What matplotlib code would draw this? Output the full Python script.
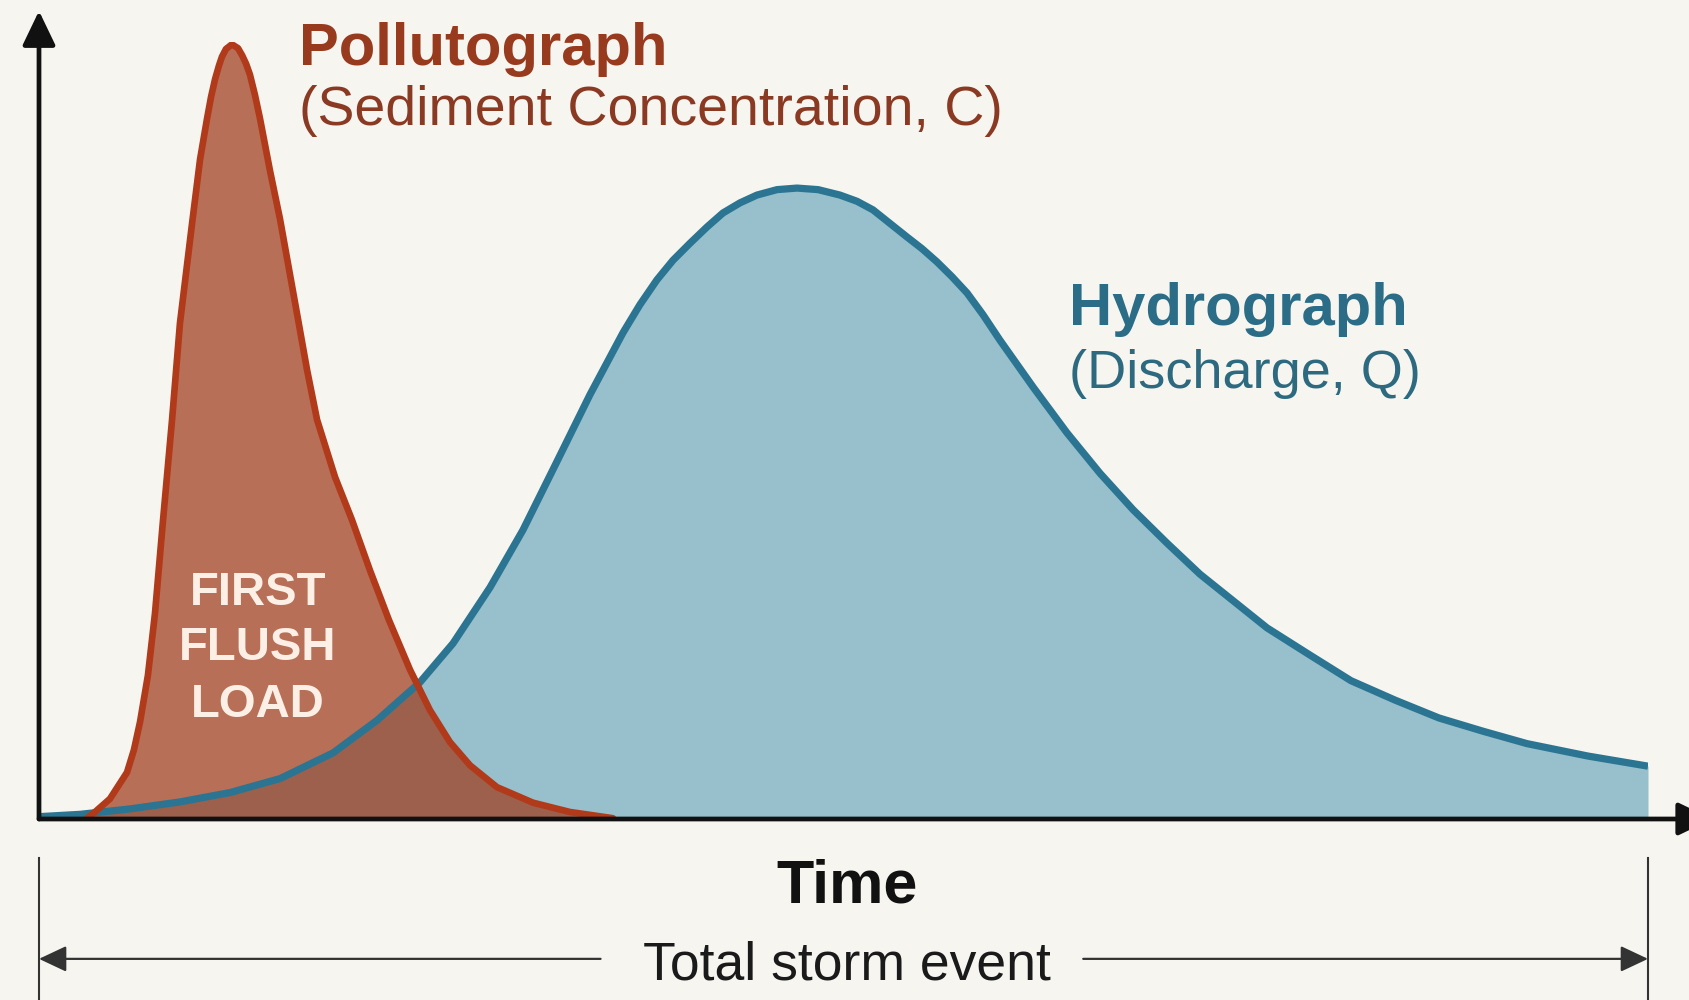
'''
Pollutograph vs hydrograph for a storm event (first flush)
'''
import matplotlib
matplotlib.use('Agg')
import matplotlib.pyplot as plt

# Hydrograph (discharge Q), time in % of the storm event, arbitrary units
hydro_t = [0.0, 2.55, 5.66, 8.76, 11.87, 14.98, 18.27, 21.01, 23.68, 25.73,
           28.03, 30.08, 32.19, 34.24, 36.30, 37.35, 38.41, 39.40, 40.46, 41.52,
           42.51, 43.57, 44.62, 45.87, 47.11, 48.42, 49.78, 50.84, 51.83, 53.95,
           54.88, 55.81, 56.74, 57.68, 58.67, 59.73, 61.78, 63.89, 65.94, 68.00,
           70.11, 72.16, 74.21, 76.32, 78.99, 81.54, 84.28, 87.01, 89.74, 92.48,
           96.27, 100.0]
hydro_q = [0.3, 0.6, 1.3, 2.2, 3.4, 5.2, 8.5, 12.7, 17.6, 22.6,
           29.8, 37.2, 46.0, 54.6, 62.6, 66.2, 69.4, 71.9, 74.1, 76.2,
           78.0, 79.3, 80.3, 81.0, 81.2, 81.0, 80.3, 79.5, 78.4, 74.9,
           73.4, 71.7, 69.8, 67.7, 64.9, 61.6, 55.6, 49.7, 44.5, 39.8,
           35.5, 31.5, 28.1, 24.6, 21.1, 17.8, 15.3, 13.0, 11.3, 9.7,
           8.1, 6.8]

# Pollutograph (sediment concentration C)
poll_t = [2.92, 3.48, 4.41, 5.47, 5.90, 6.28, 6.77, 7.21, 7.71, 8.27,
          8.76, 9.51, 10.01, 10.44, 10.69, 10.94, 11.19, 11.37, 11.62, 11.99,
          12.37, 12.62, 12.87, 13.11, 13.42, 13.73, 14.36, 14.98, 16.10, 16.66,
          17.28, 18.40, 19.45, 20.57, 21.75, 23.06, 24.30, 25.54, 26.79, 28.46,
          30.70, 33.00, 35.67]
poll_c = [0.0, 0.9, 2.6, 6.0, 8.9, 12.5, 18.5, 26.5, 38.5, 51.4,
          63.8, 76.6, 84.9, 90.1, 92.9, 95.2, 97.0, 98.1, 99.1, 99.7,
          99.2, 98.3, 97.2, 95.8, 93.2, 90.2, 83.4, 77.2, 64.3, 57.8,
          51.4, 44.0, 38.5, 32.0, 25.6, 19.2, 14.0, 9.9, 6.9, 4.1,
          2.1, 0.9, 0.1]

BG = '#f6f5f0'
RUST = '#b13a1a'
TEAL = '#2b7592'

plt.rcParams['font.family'] = ['Liberation Sans', 'DejaVu Sans']

fig = plt.figure(figsize=(16.89, 10), dpi=100, facecolor=BG)
ax = fig.add_axes([39 / 1689, 181 / 1000, 1609 / 1689, 777 / 1000])
ax.set_facecolor(BG)
ax.set_xlim(0, 100)
ax.set_ylim(0, 100)
ax.axis('off')

# curves
ax.fill_between(hydro_t, hydro_q, 0, color='#97bfcc', lw=0, zorder=1)
ax.fill_between(poll_t, poll_c, 0, color='#a03c1c', alpha=0.72, lw=0, zorder=2)
ax.plot(hydro_t, hydro_q, color=TEAL, lw=5.2, solid_capstyle='butt',
        solid_joinstyle='round', zorder=3)
ax.plot(poll_t, poll_c, color=RUST, lw=4.8, solid_capstyle='round',
        solid_joinstyle='round', zorder=4)

# axes with arrows
axis_arrow = dict(arrowstyle='-|>,head_length=0.5,head_width=0.24', lw=3.4,
                  color='#111111', mutation_scale=42, shrinkA=0, shrinkB=0)
ax.annotate('', xy=(0, 104.0), xytext=(0, 0), arrowprops=axis_arrow,
            annotation_clip=False, zorder=6)
ax.annotate('', xy=(104.0, 0), xytext=(0, 0), arrowprops=axis_arrow,
            annotation_clip=False, zorder=6)

# labels
ax.text(16.16, 97.0, 'Pollutograph', fontsize=43, fontweight='bold',
        color='#983a1e', va='baseline', ha='left')
ax.text(16.16, 89.3, '(Sediment Concentration, C)', fontsize=40,
        color='#8a3a23', va='baseline', ha='left')
ax.text(64.0, 63.6, 'Hydrograph', fontsize=43, fontweight='bold',
        color='#2b6c86', va='baseline', ha='left')
ax.text(64.0, 55.5, '(Discharge, Q)', fontsize=39,
        color='#2d6a80', va='baseline', ha='left')

for label, v in zip(['FIRST', 'FLUSH', 'LOAD'], [27.5, 20.5, 13.1]):
    ax.text(13.6, v, label, fontsize=34, fontweight='bold', color='#fcefe6',
            ha='center', va='baseline', zorder=5)

ax.text(50.2, -10.8, 'Time', fontsize=44, fontweight='bold', color='#111111',
        ha='center', va='baseline', clip_on=False)
ax.text(50.2, -20.7, 'Total storm event', fontsize=38.5, color='#1a1a1a',
        ha='center', va='baseline', clip_on=False)

# total storm event span
span_arrow = dict(arrowstyle='-|>,head_length=0.85,head_width=0.4', lw=1.6,
                  color='#333333', mutation_scale=20, shrinkA=0, shrinkB=0)
ax.annotate('', xy=(0, -18.0), xytext=(34.9, -18.0), arrowprops=span_arrow,
            annotation_clip=False)
ax.annotate('', xy=(100, -18.0), xytext=(64.9, -18.0), arrowprops=span_arrow,
            annotation_clip=False)
for t in [0, 100]:
    ax.plot([t, t], [-5.0, -24.0], color='#333333', lw=1.5, clip_on=False)

fig.savefig('out.png', dpi=100, facecolor=BG)
